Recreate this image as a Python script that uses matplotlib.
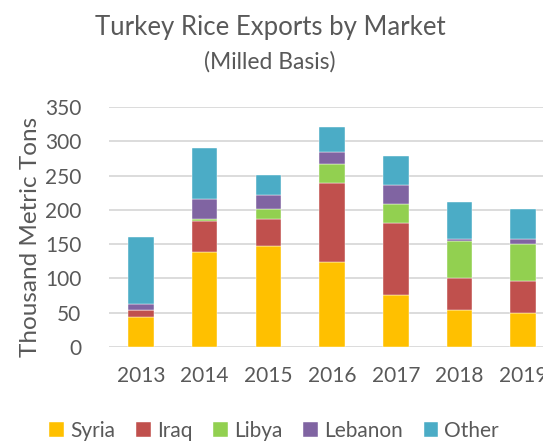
import numpy as np
import matplotlib
matplotlib.use('Agg')
import matplotlib.pyplot as plt

plt.rcParams['font.family'] = ['Lato', 'DejaVu Sans']

years = ['2013', '2014', '2015', '2016', '2017', '2018', '2019']
syria = [43, 138, 147, 124, 75, 53, 50]
iraq = [11, 46, 40, 116, 106, 47, 46]
libya = [0, 3, 14, 27, 28, 54, 54]
lebanon = [9, 29, 21, 18, 28, 4, 7]
other = [97, 75, 29, 36, 42, 54, 44]

series = [('Syria', syria, '#FFC000'),
          ('Iraq', iraq, '#C0504D'),
          ('Libya', libya, '#92D050'),
          ('Lebanon', lebanon, '#8064A2'),
          ('Other', other, '#4BACC6')]

txt = '#595959'

fig = plt.figure(figsize=(5.43, 4.41), dpi=100)
ax = fig.add_axes([0.2011, 0.2138, 0.821, 0.5429])

x = np.arange(len(years))
bottom = np.zeros(len(years))
for name, vals, col in series:
    ax.bar(x, vals, 0.4, bottom=bottom, color=col, label=name,
           edgecolor='white', linewidth=0.3, zorder=3)
    bottom += np.array(vals)

ax.set_xlim(-0.5, 6.5)
ax.set_ylim(0, 350)
ax.set_yticks(range(0, 351, 50))
ax.set_xticks(x)
ax.set_xticklabels(years)
ax.grid(axis='y', color='#d9d9d9', linewidth=1.3, zorder=0)
for s in ax.spines.values():
    s.set_visible(False)
ax.tick_params(length=0, labelsize=15, colors=txt)
ax.tick_params(axis='x', pad=14)
ax.tick_params(axis='y', pad=20)
ax.set_ylabel('Thousand Metric Tons', fontsize=17.5, color=txt)
ax.yaxis.set_label_coords(-0.152, 0.46)

fig.text(0.497, 0.938, 'Turkey Rice Exports by Market', ha='center', va='center',
         fontsize=18.5, color=txt)
fig.text(0.497, 0.86, '(Milled Basis)', ha='center', va='center',
         fontsize=16.5, color=txt)

fig.legend(loc='center', bbox_to_anchor=(0.505, 0.023), ncol=5, frameon=False,
           fontsize=15, labelcolor=txt, handlelength=0.7, handleheight=0.7,
           handletextpad=0.3, columnspacing=1.0)

fig.savefig('out.png', dpi=100)
